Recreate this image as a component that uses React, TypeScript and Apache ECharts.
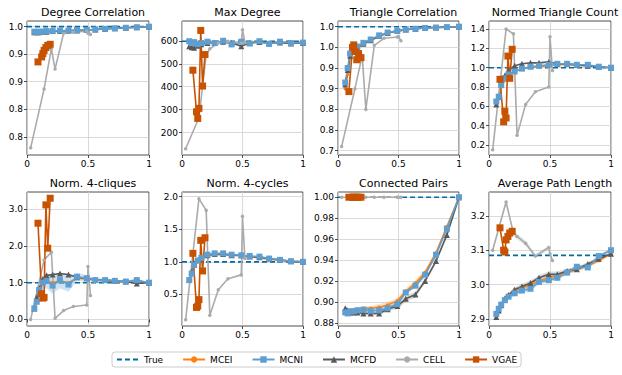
import React, { useEffect, useRef } from 'react';
import * as echarts from 'echarts';

// ---------- shared x positions ----------
const X_MC = [0.06, 0.08, 0.1, 0.13, 0.16, 0.21, 0.27, 0.34, 0.41, 0.49, 0.56, 0.64, 0.72, 0.81, 0.9, 1.0];
const X_CELL = [0.03, 0.14, 0.2, 0.23, 0.3, 0.38, 0.49, 0.5, 0.52];
const X_VGAE = [0.09, 0.12, 0.13, 0.14, 0.155, 0.17, 0.19];
const X_TICKS = [0, 0.5, 1];
const X_LABELS = ['0', '0.5', '1'];

// ---------- Degree Correlation ----------
const DC_TRUE = 1.0;
const DC_MCEI = [0.989, 0.989, 0.99, 0.99, 0.991, 0.991, 0.992, 0.993, 0.993, 0.994, 0.995, 0.996, 0.997, 0.998, 0.999, 1.0];
const DC_MCNI = [0.991, 0.99, 0.991, 0.991, 0.992, 0.992, 0.993, 0.993, 0.994, 0.994, 0.995, 0.996, 0.997, 0.998, 0.999, 1.0];
const DC_MCFD = [0.99, 0.99, 0.99, 0.991, 0.991, 0.992, 0.992, 0.993, 0.993, 0.994, 0.995, 0.996, 0.997, 0.998, 0.999, 1.0];
const DC_CELL = [0.78, 0.887, 0.96, 0.923, 0.988, 0.99, 0.992, 0.988, 0.986];
const DC_VGAE = [0.936, 0.945, 0.951, 0.957, 0.962, 0.966, 0.968];
const DC_TICKS = [0.8, 0.85, 0.9, 0.95, 1.0];
const DC_LABELS = ['0.8', '0.8', '0.9', '0.9', '1.0'];

// ---------- Max Degree ----------
const MD_TRUE = 598;
const MD_MCEI = [592, 590, 588, 592, 590, 593, 594, 592, 590, 588, 594, 592, 590, 594, 592, 592];
const MD_MCNI = [598, 590, 594, 585, 590, 596, 590, 600, 584, 596, 588, 598, 586, 596, 590, 592];
const MD_MCFD = [576, 572, 570, 578, 585, 590, 592, 596, 590, 576, 590, 595, 590, 592, 588, 590];
const MD_CELL = [130, 265, 540, 565, 590, 598, 590, 648, 592];
const MD_VGAE = [472, 291, 262, 306, 645, 403, 540];
const MD_TICKS = [200, 300, 400, 500, 600];
const MD_LABELS = ['200', '300', '400', '500', '600'];

// ---------- Triangle Correlation ----------
const TC_TRUE = 1.0;
const TC_MCEI = [0.85, 0.885, 0.925, 0.938, 0.948, 0.958, 0.966, 0.977, 0.985, 0.989, 0.993, 0.995, 0.997, 0.998, 0.999, 1.0];
const TC_MCNI = [0.865, 0.9, 0.935, 0.945, 0.952, 0.961, 0.969, 0.979, 0.986, 0.99, 0.993, 0.995, 0.997, 0.998, 0.999, 1.0];
const TC_MCFD = [0.86, 0.895, 0.93, 0.942, 0.95, 0.959, 0.967, 0.978, 0.985, 0.99, 0.993, 0.995, 0.997, 0.998, 0.999, 1.0];
const TC_CELL = [0.71, 0.85, 0.93, 0.8, 0.955, 0.972, 0.975, 0.976, 0.966];
const TC_VGAE = [0.843, 0.95, 0.956, 0.94, 0.92, 0.935, 0.925];
const TC_TICKS = [0.7, 0.75, 0.8, 0.85, 0.9, 0.95, 1.0];
const TC_LABELS = ['0.7', '0.8', '0.8', '0.9', '0.9', '1.0', '1.0'];

// ---------- Normed Triangle Count ----------
const NT_TRUE = 1.0;
const NT_MCEI = [0.62, 0.68, 0.8, 0.87, 0.92, 0.96, 0.99, 1.0, 1.01, 1.02, 1.03, 1.03, 1.02, 1.02, 1.01, 1.0];
const NT_MCNI = [0.65, 0.7, 0.82, 0.89, 0.93, 0.96, 0.99, 1.01, 1.02, 1.03, 1.04, 1.04, 1.03, 1.03, 1.01, 1.0];
const NT_MCFD = [0.62, 0.7, 0.85, 0.92, 0.97, 1.02, 1.04, 1.05, 1.05, 1.06, 1.04, 1.04, 1.03, 1.02, 1.01, 1.0];
const NT_CELL = [0.15, 1.4, 1.35, 0.3, 0.62, 0.75, 0.8, 1.32, 0.97];
const NT_VGAE = [0.88, 0.44, 0.55, 0.48, 1.12, 0.89, 1.19];
const NT_TICKS = [0.2, 0.4, 0.6, 0.8, 1.0, 1.2, 1.4];
const NT_LABELS = ['0.2', '0.4', '0.6', '0.8', '1.0', '1.2', '1.4'];

// ---------- Norm. 4-cliques ----------
const C4_TRUE = 1.0;
const C4_MCEI = [0.3, 0.5, 0.8, 0.98, 1.05, 1.0, 1.05, 1.0, 1.12, 1.1, 1.07, 1.05, 1.03, 1.02, 1.02, 1.0];
const C4_MCNI = [0.3, 0.48, 0.8, 1.0, 1.05, 0.92, 1.07, 0.95, 1.16, 1.12, 1.07, 1.07, 1.05, 1.03, 1.07, 1.0];
const C4_MCFD = [0.3, 0.6, 0.85, 1.1, 1.2, 1.22, 1.25, 1.22, 1.15, 1.12, 1.08, 1.07, 1.05, 1.03, 0.98, 1.0];
const C4_CELL = [0.0, 1.62, 1.83, 0.03, 0.24, 0.35, 0.39, 1.44, 0.65];
const C4_VGAE = [2.62, 0.7, 0.58, 0.6, 3.12, 1.94, 3.3];
const C4_MCNI_ERR = [0.05, 0.08, 0.12, 0.16, 0.2, 0.22, 0.22, 0.2, 0.12, 0.08, 0.05, 0.05, 0.04, 0.03, 0.04, 0.0];
const C4_TICKS = [0, 1, 2, 3];
const C4_LABELS = ['0.0', '1.0', '2.0', '3.0'];

// ---------- Norm. 4-cycles ----------
const Y4_TRUE = 1.0;
const Y4_MCEI = [0.7, 0.8, 0.93, 1.0, 1.05, 1.09, 1.11, 1.11, 1.1, 1.09, 1.08, 1.06, 1.04, 1.02, 1.01, 1.0];
const Y4_MCNI = [0.72, 0.82, 0.95, 1.02, 1.06, 1.11, 1.13, 1.13, 1.11, 1.1, 1.09, 1.08, 1.05, 1.03, 1.01, 1.0];
const Y4_MCFD = [0.72, 0.85, 0.97, 1.03, 1.07, 1.1, 1.12, 1.12, 1.1, 1.1, 1.08, 1.07, 1.05, 1.03, 1.01, 1.0];
const Y4_CELL = [0.11, 1.97, 1.79, 0.18, 0.57, 0.74, 0.8, 1.7, 1.05];
const Y4_VGAE = [1.13, 0.3, 0.32, 0.42, 1.33, 0.86, 1.37];
const Y4_TICKS = [0.5, 1.0, 1.5, 2.0];
const Y4_LABELS = ['0.5', '1.0', '1.5', '2.0'];

// ---------- Connected Pairs ----------
const CP_TRUE = 1.0;
const CP_MCEI = [0.891, 0.89, 0.892, 0.892, 0.893, 0.894, 0.894, 0.895, 0.897, 0.901, 0.91, 0.918, 0.928, 0.947, 0.972, 1.0];
const CP_MCNI = [0.89, 0.889, 0.891, 0.891, 0.892, 0.8925, 0.8915, 0.892, 0.894, 0.898, 0.909, 0.9155, 0.926, 0.945, 0.97, 1.0];
const CP_MCFD = [0.894, 0.892, 0.89, 0.89, 0.89, 0.889, 0.889, 0.889, 0.893, 0.896, 0.903, 0.907, 0.92, 0.939, 0.964, 1.0];
const CP_CELL = [1.0, 1.0, 1.0, 1.0, 1.0, 1.0, 1.0, 1.0, 1.0];
const CP_VGAE = [1.0, 1.0, 1.0, 1.0, 1.0, 1.0, 1.0];
const CP_MCEI_ERR = [0.002, 0.002, 0.002, 0.002, 0.002, 0.002, 0.002, 0.003, 0.003, 0.003, 0.003, 0.003, 0.003, 0.002, 0.002, 0.0];
const CP_MCNI_ERR = [0.002, 0.002, 0.002, 0.002, 0.002, 0.002, 0.002, 0.002, 0.002, 0.002, 0.002, 0.002, 0.002, 0.002, 0.001, 0.0];
const CP_MCFD_ERR = [0.002, 0.002, 0.002, 0.002, 0.002, 0.002, 0.002, 0.002, 0.002, 0.003, 0.003, 0.003, 0.002, 0.002, 0.002, 0.0];
const CP_TICKS = [0.88, 0.9, 0.92, 0.94, 0.96, 0.98, 1.0];
const CP_LABELS = ['0.88', '0.90', '0.92', '0.94', '0.96', '0.98', '1.00'];

// ---------- Average Path Length ----------
const AP_TRUE = 3.085;
const AP_MCEI = [2.92, 2.93, 2.945, 2.96, 2.97, 2.985, 2.99, 3.0, 3.01, 3.02, 3.025, 3.035, 3.045, 3.055, 3.07, 3.09];
const AP_MCNI = [2.915, 2.93, 2.942, 2.955, 2.965, 2.975, 2.983, 2.988, 3.008, 3.013, 3.02, 3.035, 3.052, 3.05, 3.083, 3.1];
const AP_MCFD = [2.906, 2.925, 2.94, 2.96, 2.97, 2.985, 2.995, 3.005, 3.02, 3.03, 3.03, 3.04, 3.045, 3.06, 3.075, 3.09];
const AP_CELL = [3.1, 3.24, 3.15, 3.14, 3.12, 3.083, 3.108, 3.09, 3.07];
const AP_VGAE = [3.165, 3.1, 3.095, 3.13, 3.14, 3.15, 3.155];
const AP_MCEI_ERR = [0.005, 0.005, 0.006, 0.006, 0.006, 0.006, 0.007, 0.007, 0.007, 0.007, 0.007, 0.006, 0.006, 0.006, 0.005, 0.004];
const AP_MCNI_ERR = [0.006, 0.006, 0.006, 0.007, 0.007, 0.007, 0.007, 0.007, 0.007, 0.007, 0.007, 0.006, 0.006, 0.006, 0.005, 0.004];
const AP_MCFD_ERR = [0.004, 0.005, 0.005, 0.006, 0.006, 0.007, 0.008, 0.008, 0.008, 0.008, 0.008, 0.007, 0.007, 0.006, 0.006, 0.005];
const AP_CELL_ERR = [0.005, 0.007, 0.008, 0.008, 0.008, 0.006, 0.006, 0.006, 0.005];
const AP_TICKS = [2.9, 3.0, 3.1, 3.2];
const AP_LABELS = ['2.9', '3.0', '3.1', '3.2'];

const LEGEND_NAMES = ['True', 'MCEI', 'MCNI', 'MCFD', 'CELL', 'VGAE'];

type Panel = {
  title: string; t: number; mcei: number[]; mcni: number[]; mcfd: number[]; cell: number[]; vgae: number[];
  ticks: number[]; labels: string[]; min: number; max: number;
  err?: { mcei?: number[]; mcni?: number[]; mcfd?: number[]; cell?: number[] };
};

const PANELS: Panel[] = [
  { title: 'Degree Correlation', t: DC_TRUE, mcei: DC_MCEI, mcni: DC_MCNI, mcfd: DC_MCFD, cell: DC_CELL, vgae: DC_VGAE, ticks: DC_TICKS, labels: DC_LABELS, min: 0.767, max: 1.0103 },
  { title: 'Max Degree', t: MD_TRUE, mcei: MD_MCEI, mcni: MD_MCNI, mcfd: MD_MCFD, cell: MD_CELL, vgae: MD_VGAE, ticks: MD_TICKS, labels: MD_LABELS, min: 103, max: 686 },
  { title: 'Triangle Correlation', t: TC_TRUE, mcei: TC_MCEI, mcni: TC_MCNI, mcfd: TC_MCFD, cell: TC_CELL, vgae: TC_VGAE, ticks: TC_TICKS, labels: TC_LABELS, min: 0.6896, max: 1.0138 },
  { title: 'Normed Triangle Count', t: NT_TRUE, mcei: NT_MCEI, mcni: NT_MCNI, mcfd: NT_MCFD, cell: NT_CELL, vgae: NT_VGAE, ticks: NT_TICKS, labels: NT_LABELS, min: 0.0966, max: 1.483 },
  { title: 'Norm. 4-cliques', t: C4_TRUE, mcei: C4_MCEI, mcni: C4_MCNI, mcfd: C4_MCFD, cell: C4_CELL, vgae: C4_VGAE, ticks: C4_TICKS, labels: C4_LABELS, min: -0.18, max: 3.47, err: { mcni: C4_MCNI_ERR } },
  { title: 'Norm. 4-cycles', t: Y4_TRUE, mcei: Y4_MCEI, mcni: Y4_MCNI, mcfd: Y4_MCFD, cell: Y4_CELL, vgae: Y4_VGAE, ticks: Y4_TICKS, labels: Y4_LABELS, min: 0.015, max: 2.072 },
  { title: 'Connected Pairs', t: CP_TRUE, mcei: CP_MCEI, mcni: CP_MCNI, mcfd: CP_MCFD, cell: CP_CELL, vgae: CP_VGAE, ticks: CP_TICKS, labels: CP_LABELS, min: 0.877, max: 1.005, err: { mcei: CP_MCEI_ERR, mcni: CP_MCNI_ERR, mcfd: CP_MCFD_ERR } },
  { title: 'Average Path Length', t: AP_TRUE, mcei: AP_MCEI, mcni: AP_MCNI, mcfd: AP_MCFD, cell: AP_CELL, vgae: AP_VGAE, ticks: AP_TICKS, labels: AP_LABELS, min: 2.88, max: 3.269, err: { mcei: AP_MCEI_ERR, mcni: AP_MCNI_ERR, mcfd: AP_MCFD_ERR, cell: AP_CELL_ERR } },
];

const COL_LEFT = [27, 182, 338, 489];
const COL_WIDTH = [122, 121, 121, 122];
const ROW_TOP = [21, 192];
const ROW_HEIGHT = [134, 134];

const C_TRUE = '#006BA4';
const C_MCEI = '#FF800E';
const C_MCNI = '#5F9ED1';
const C_MCFD = '#595959';
const C_CELL = '#ABABAB';
const C_VGAE = '#C85200';
const FONT = 'DejaVu Sans';

function pick(ticks: number[], labels: string[], v: number) {
  let b = 0;
  for (let i = 1; i < ticks.length; i++) if (Math.abs(ticks[i] - v) < Math.abs(ticks[b] - v)) b = i;
  return labels[b];
}

function buildOption() {
  const grids: any[] = [];
  const xAxes: any[] = [];
  const yAxes: any[] = [];
  const titles: any[] = [];
  const series: any[] = [];

  PANELS.forEach((p, i) => {
    const r = Math.floor(i / 4);
    const c = i % 4;
    grids.push({
      left: COL_LEFT[c], top: ROW_TOP[r], width: COL_WIDTH[c], height: ROW_HEIGHT[r],
      show: true, borderColor: '#222', borderWidth: 0.8, backgroundColor: 'transparent', containLabel: false,
    });
    titles.push({
      text: p.title, left: COL_LEFT[c] + COL_WIDTH[c] / 2, top: ROW_TOP[r] - 19, textAlign: 'center',
      textStyle: { fontFamily: FONT, fontSize: 11, fontWeight: 'normal', color: '#000' },
    });
    xAxes.push({
      type: 'value', gridIndex: i, min: 0, max: 1,
      axisLine: { show: false },
      axisTick: { show: true, length: 3, customValues: X_TICKS, lineStyle: { color: '#222', width: 0.8 } },
      axisLabel: { customValues: X_TICKS, fontFamily: FONT, fontSize: 9, color: '#000', margin: 4, formatter: (v: number) => pick(X_TICKS, X_LABELS, v) },
      splitLine: { show: true, lineStyle: { color: '#d0d0d0', width: 0.8 } },
    });
    yAxes.push({
      type: 'value', gridIndex: i, min: p.min, max: p.max,
      axisLine: { show: false },
      axisTick: { show: true, length: 3, customValues: p.ticks, lineStyle: { color: '#222', width: 0.8 } },
      axisLabel: { customValues: p.ticks, fontFamily: FONT, fontSize: 9, color: '#000', margin: 4, formatter: (v: number) => pick(p.ticks, p.labels, v) },
      splitLine: { show: true, lineStyle: { color: '#d0d0d0', width: 0.8 } },
    });
    const base = { xAxisIndex: i, yAxisIndex: i, silent: true, animation: false };

    // confidence bands as polygons (custom series), drawn under the lines
    const band = (key: string, xs: number[], ys: number[], err: number[] | undefined, color: string, opacity: number) => {
      if (!err) return;
      const rows = xs.map((x, k) => [x, ys[k] - err[k], ys[k] + err[k]]);
      series.push({
        ...base, type: 'custom', name: `${key} band`, z: 1, data: rows,
        renderItem: (params: any, api: any) => {
          if (params.dataIndex !== 0) return null;
          const upper = rows.map((rw) => api.coord([rw[0], rw[2]]));
          const lower = rows.slice().reverse().map((rw) => api.coord([rw[0], rw[1]]));
          return { type: 'polygon', shape: { points: upper.concat(lower) }, style: { fill: color, opacity } };
        },
      });
    };
    band('CELL', X_CELL, p.cell, p.err?.cell, C_CELL, 0.3);
    band('MCEI', X_MC, p.mcei, p.err?.mcei, C_MCEI, 0.25);
    band('MCNI', X_MC, p.mcni, p.err?.mcni, C_MCNI, 0.3);
    band('MCFD', X_MC, p.mcfd, p.err?.mcfd, C_MCFD, 0.2);

    const line = { ...base, type: 'line', z: 2 };
    series.push({
      ...line, name: 'True', data: [[0, p.t], [1, p.t]], symbol: 'none',
      lineStyle: { color: C_TRUE, width: 1.6, type: [5, 3] }, itemStyle: { color: C_TRUE },
    });
    series.push({
      ...line, name: 'MCEI', data: X_MC.map((x, k) => [x, p.mcei[k]]), symbol: 'circle', symbolSize: 3.5,
      lineStyle: { color: C_MCEI, width: 1.6 }, itemStyle: { color: C_MCEI },
    });
    series.push({
      ...line, name: 'MCFD', data: X_MC.map((x, k) => [x, p.mcfd[k]]), symbol: 'triangle', symbolSize: 6,
      lineStyle: { color: C_MCFD, width: 1.6 }, itemStyle: { color: C_MCFD },
    });
    series.push({
      ...line, name: 'MCNI', data: X_MC.map((x, k) => [x, p.mcni[k]]), symbol: 'rect', symbolSize: 6,
      lineStyle: { color: C_MCNI, width: 1.6 }, itemStyle: { color: C_MCNI },
    });
    series.push({
      ...line, name: 'CELL', data: X_CELL.map((x, k) => [x, p.cell[k]]), symbol: 'circle', symbolSize: 3.5,
      lineStyle: { color: C_CELL, width: 1.6 }, itemStyle: { color: C_CELL },
    });
    series.push({
      ...line, name: 'VGAE', data: X_VGAE.map((x, k) => [x, p.vgae[k]]), symbol: 'rect', symbolSize: 7,
      lineStyle: { color: C_VGAE, width: 1.6 }, itemStyle: { color: C_VGAE },
    });
  });

  return {
    animation: false,
    backgroundColor: '#fff',
    title: titles,
    grid: grids,
    xAxis: xAxes,
    yAxis: yAxes,
    legend: {
      data: LEGEND_NAMES.map((n) => (n === 'True' ? { name: n, itemStyle: { opacity: 0 } } : { name: n })),
      left: 112, top: 352, orient: 'horizontal',
      itemWidth: 22, itemHeight: 8, itemGap: 19, padding: [3, 4],
      borderColor: '#cccccc', borderWidth: 1, borderRadius: 3,
      textStyle: { fontFamily: FONT, fontSize: 9, color: '#000' },
    },
    series,
  };
}

export default function App() {
  const ref = useRef<HTMLDivElement>(null);
  useEffect(() => {
    if (!ref.current) return;
    const chart = echarts.init(ref.current, null, { renderer: 'svg' });
    chart.setOption(buildOption() as any);
    return () => chart.dispose();
  }, []);
  return (
    <div
      ref={ref}
      style={{ position: 'absolute', left: 0, top: 0, width: 622, height: 375, background: '#fff' }}
    />
  );
}
